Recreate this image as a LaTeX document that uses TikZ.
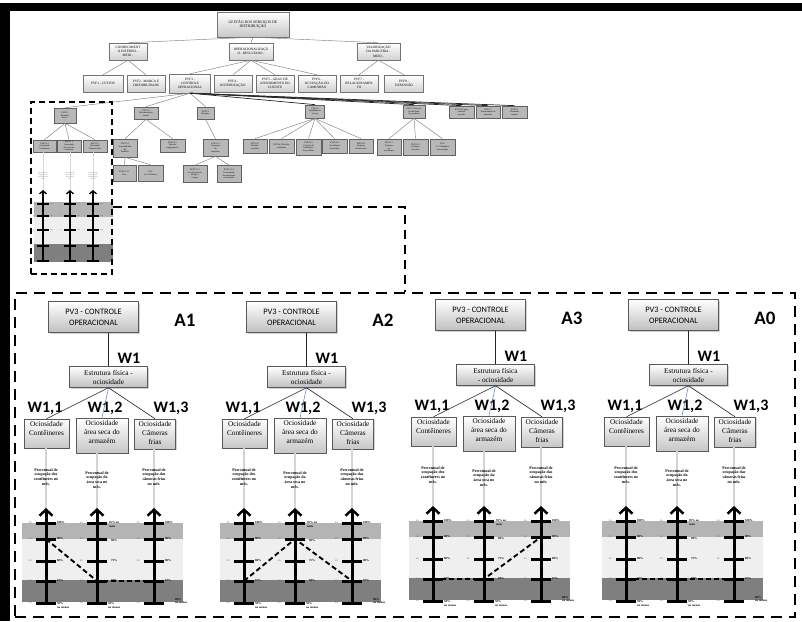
\documentclass[tikz,border=0pt]{standalone}
\usepackage{fontspec}
\setmainfont{Liberation Serif}
\newfontfamily\calib{Carlito}
\usetikzlibrary{arrows.meta,shadows,calc}

\definecolor{bandhi}{HTML}{B4B4B4}
\definecolor{bandmid}{HTML}{EFEFEF}
\definecolor{bandlo}{HTML}{7F7F7F}
\definecolor{linkblue}{HTML}{6C8EBF}

\tikzset{
  tbox/.style={draw=black!55, line width=0.4pt, inner sep=0.2pt, align=center,
    drop shadow={shadow xshift=0.7pt,shadow yshift=-0.7pt,fill=black!30}},
  troot/.style={tbox, top color=white, bottom color=black!22, font=\fontsize{3.8}{4.6}\selectfont},
  tup/.style={tbox, top color=white, bottom color=black!18, font=\fontsize{3.4}{4.1}\selectfont},
  tlow/.style={tbox, fill=black!28, draw=black!62, line width=0.7pt, font=\fontsize{2.2}{2.7}\selectfont},
  tedge/.style={draw=black!50, line width=0.45pt},
  tedgedark/.style={draw=black!85, line width=0.7pt},
  softshadow/.style={drop shadow={shadow xshift=1.3pt,shadow yshift=-1.3pt,fill=black!35}},
  pvbox/.style={draw=black!65, line width=0.5pt, top color=white, bottom color=black!25,
    minimum width=90, minimum height=31, inner sep=0, align=center,
    font=\calib\fontsize{8.3}{11}\selectfont, softshadow},
  estbox/.style={draw=black!65, line width=0.5pt, top color=white, bottom color=black!25,
    minimum width=78, minimum height=21, inner sep=0, align=center,
    font=\fontsize{7.3}{9}\selectfont, softshadow},
  ocbox/.style={draw=black!65, line width=0.5pt, top color=white, bottom color=black!22,
    inner sep=0, softshadow},
  octxt/.style={align=center, inner sep=0, font=\fontsize{7.3}{9}\selectfont},
  albl/.style={inner sep=0, font=\calib\bfseries\fontsize{19}{19}\selectfont},
  wlbl/.style={inner sep=0, font=\calib\bfseries\fontsize{16}{16}\selectfont},
  conn/.style={draw=black!85, line width=0.6pt},
  feed/.style={draw=black!17, line width=1.6pt},
  pct/.style={align=center, inner sep=0, font=\bfseries\fontsize{4}{4.8}\selectfont},
  tk/.style={align=left, inner sep=0, font=\bfseries\fontsize{3}{3.5}\selectfont},
  tkx/.style={inner sep=0, font=\fontsize{3}{3.5}\selectfont, text=black!60},
  bigarrow/.style={line width=3pt, -{Straight Barb[length=6pt,width=13pt,line width=2.5pt]}},
  tickbar/.style={line width=3pt},
  trend/.style={line width=1.9pt, dash pattern=on 5pt off 3pt},
  minarrow/.style={line width=1.5pt, -{Straight Barb[length=3pt,width=7pt,line width=1.3pt]}},
  minfeed/.style={draw=black!15, line width=0.8pt},
  mintxt/.style={align=center, inner sep=0, font=\fontsize{1.7}{2.1}\selectfont, text=black!60},
  mintk/.style={inner sep=0, font=\fontsize{1.6}{1.9}\selectfont, text=black!60},
  bigframe/.style={draw, line width=2.6pt, dash pattern=on 11pt off 7pt, inner sep=0},
  zoomframe/.style={draw, line width=1.3pt, dash pattern=on 6pt off 4pt, inner sep=0},
  linkdash/.style={draw, line width=1.6pt, dash pattern=on 9pt off 6pt},
}

% one "PV3 - controle operacional" panel: #1 name, #2/#3 offset, #4 label, #5 text of the middle box
\newcommand{\ocpanel}[5]{%
\begin{scope}[shift={(#2,#3)}]
  \node[pvbox] (#1-pv) at (93.5,317) {PV3 - CONTROLE\\OPERACIONAL};
  \node[albl] (#1-lbl) at (185,320) {#4};
  \node[estbox] (#1-est) at (108.5,377) {#5};
  \node[wlbl] (#1-w) at (129,358) {W1};
  \node[ocbox, minimum width=45, minimum height=29] (#1-L) at (46.5,433.5) {};
  \node[ocbox, minimum width=52, minimum height=35] (#1-M) at (102,435.5) {};
  \node[ocbox, minimum width=41, minimum height=30] (#1-R) at (155,434) {};
  \node[octxt, anchor=north, yshift=-2.5pt] (#1-Lt) at (#1-L.north) {Ociosidade\\Contêineres};
  \node[octxt, anchor=north, yshift=-2.5pt] (#1-Mt) at (#1-M.north) {Ociosidade\\área seca do\\armazém};
  \node[octxt, anchor=north, yshift=-2.5pt] (#1-Rt) at (#1-R.north) {Ociosidade\\Câmeras\\frias};
  \node[wlbl] (#1-w11) at (45,408) {W1,1};
  \node[wlbl] (#1-w12) at (105,408) {W1,2};
  \node[wlbl] (#1-w13) at (171,408) {W1,3};
  \draw[conn] (#1-est.north) -- (#1-est.north |- #1-pv.south);
  \draw[conn] (#1-est.south) -- (#1-L.north);
  \draw[conn, draw=linkblue] (#1-est.south) -- (#1-M.north);
  \draw[conn] (#1-est.south) -- (#1-R.north);
  % performance bands
  \fill[bandhi] (22,523) rectangle (183,539);
  \fill[bandmid] (22,539) rectangle (183,580);
  \fill[bandlo] (22,580) rectangle (183,602);
  \foreach \side/\xa in {L/46,M/97,R/154}{
    \coordinate (#1-\side-top) at (\xa,508);
    \foreach \lv/\ya in {1/523,2/539,3/561,4/581,5/603}{\coordinate (#1-\side-t\lv) at (\xa,\ya);}
    \draw[feed] (#1-\side-top |- #1-\side.south) -- (#1-\side-top);
    \draw[bigarrow] (#1-\side-t5) -- (#1-\side-top);
    \foreach \lv in {1,...,5}{
      \draw[tickbar] ([xshift=-10pt]#1-\side-t\lv) -- ([xshift=10pt]#1-\side-t\lv);
      \node[tkx, anchor=east] (#1-\side-x\lv) at ([xshift=-14pt]#1-\side-t\lv) {xx};
    }
  }
  \node[pct] (#1-L-p) at (46,477) {Percentual de\\ocupação dos\\contêineres no\\mês.};
  \node[pct] (#1-M-p) at (97,480) {Percentual de\\ocupação da\\área seca no\\mês.};
  \node[pct] (#1-R-p) at (154,477) {Percentual de\\ocupação das\\câmeras frias\\no mês.};
  \foreach \side in {L,R}{
    \node[tk, anchor=west] (#1-\side-l1) at ([xshift=11pt]#1-\side-t1) {100\%};
    \node[tk, anchor=west] (#1-\side-l2) at ([xshift=11pt]#1-\side-t2) {90\%};
    \node[tk, anchor=west] (#1-\side-l3) at ([xshift=11pt]#1-\side-t3) {80\%};
    \node[tk, anchor=west] (#1-\side-l4) at ([xshift=11pt]#1-\side-t4) {67\%};
  }
  \node[tk, anchor=north west] (#1-L-l5) at ([xshift=11pt,yshift=0.5pt]#1-L-t5) {50\%\\ou menos};
  \node[tk, anchor=north west] (#1-R-l5) at ([xshift=21pt,yshift=5pt]#1-R-t5) {60\%\\ou menos};
  \node[tk, anchor=north west] (#1-M-l1) at ([xshift=12pt,yshift=1.5pt]#1-M-t1) {95\% ou\\mais};
  \node[tk, anchor=west] (#1-M-l2) at ([xshift=14pt,yshift=-2pt]#1-M-t2) {90\%};
  \node[tk, anchor=west] (#1-M-l3) at ([xshift=14pt]#1-M-t3) {75\%};
  \node[tk, anchor=west] (#1-M-l4) at ([xshift=14pt]#1-M-t4) {60\%};
  \node[tk, anchor=north west] (#1-M-l5) at ([xshift=11pt,yshift=0.5pt]#1-M-t5) {50\%\\ou menos};
\end{scope}}

\begin{document}
\begin{tikzpicture}[x=1pt,y=-1pt]
\useasboundingbox (0,0) rectangle (802,621);
\fill[white] (0,0) rectangle (802,621);
\fill[black] (0,3) rectangle (802,11);
\fill[black] (0,3) rectangle (9.5,621);

% ---------- value tree ----------
\node[troot, minimum width=72, minimum height=25] (g) at (253,24.5) {GESTÃO DOS SERVIÇOS DE\\DISTRIBUIÇÃO};
\node[tup, minimum width=38, minimum height=17] (c1) at (128,51.5) {CONHECIMENT\\O INTERNO -\\MEIO -};
\node[tup, minimum width=44, minimum height=17] (c2) at (251,51.5) {OPERACIONALIZAÇÃ\\O - RESULTADO -};
\node[tup, minimum width=43, minimum height=17] (c3) at (378.5,51.5) {VALORIZAÇÃO\\DA PARCERIA -\\MEIO -};

\node[tup, minimum width=40, minimum height=17] (p1) at (103,83.5) {PVF1 - CUSTOS};
\node[tup, minimum width=38, minimum height=17] (p2) at (146,83.5) {PVF2 - MARCA E\\CREDIBILIDADE};
\node[tup, minimum width=41, minimum height=19] (p3) at (190,83.5) {PVF3 -\\CONTROLE\\OPERACIONAL};
\node[tup, minimum width=38, minimum height=17] (p4) at (233,83.5) {PVF4 -\\ROTEIRIZAÇÃO};
\node[tup, minimum width=38, minimum height=17] (p5) at (275,83.5) {PVF5 - GRAU DE\\ATENDIMENTO DO\\CLIENTE};
\node[tup, minimum width=38, minimum height=17] (p6) at (317,83.5) {PVF6 -\\OCUPAÇÃO DO\\CAMINHÃO};
\node[tup, minimum width=38, minimum height=17] (p7) at (359,83.5) {PVF7 -\\RELACIONAMEN\\TO};
\node[tup, minimum width=39, minimum height=17] (p8) at (404,83.5) {PVF8 -\\EXPANSÃO};

\node[tlow, minimum width=22, minimum height=15] (q1) at (65,115.5) {PVF3.1\\Estrutura\\física -};
\node[tlow, minimum width=24, minimum height=12] (q2) at (146,113) {PVF3.2\\Movimentação\\interna};
\node[tlow, minimum width=17, minimum height=12] (q3) at (205.5,113) {PVF3.3\\Estoques};
\node[tlow, minimum width=19, minimum height=13] (q4) at (315,111.5) {PVF3.4\\Qualidade do\\serviço};
\node[tlow, minimum width=22, minimum height=13] (q5) at (414,111.5) {PVF3.5 Nível de\\flexibilidade\\dos produtos};
\node[tlow, minimum width=25, minimum height=12] (q6) at (461.5,112) {PVF3.6 Carga\\nominal\\recebida};
\node[tlow, minimum width=24, minimum height=12] (q7) at (488,112) {PVF3.7\\Transferência de\\materiais};
\node[tlow, minimum width=25, minimum height=12] (q8) at (514.5,112) {PVF3.8\\Demanda\\sazonal};

\node[tlow, minimum width=23, minimum height=12] (q11) at (44.5,146) {PVF3.1.1\\Ociosidade\\Contêineres};
\node[tlow, minimum width=24, minimum height=12] (q12) at (69,146) {PVF3.1.2\\Ociosidade\\área seca do\\armazém};
\node[tlow, minimum width=24, minimum height=12] (q13) at (95,146) {PVF3.1.3\\Ociosidade\\Câmeras frias};
\node[tlow, minimum width=24, minimum height=18] (q21) at (125,148) {PVF3.2.1\\Acessibilidade\\dos\\Produtos};
\node[tlow, minimum width=25, minimum height=13] (q22) at (172.5,145.5) {PVF3.2.2\\Tipos de\\equipamentos};
\node[tlow, minimum width=25, minimum height=17] (q31) at (215.5,147.5) {PVF3.3.1\\Ocupação\\do\\armazém};
\node[tlow, minimum width=24, minimum height=14] (q41) at (255,146) {PVF3.4.1\\Pedidos\\recebidos};
\node[tlow, minimum width=25, minimum height=14] (q42) at (281.5,146) {PVF3.4.2 Pedidos\\conferidos};
\node[tlow, minimum width=25, minimum height=16] (q43) at (308.5,147) {PVF3.4.3\\Controle da\\localização\\dos produtos};
\node[tlow, minimum width=25, minimum height=14] (q44) at (334.5,146) {PVF3.4.4\\Conferência\\do produto};
\node[tlow, minimum width=24, minimum height=14] (q45) at (361,146) {PVF3.4.5\\Produtos\\classificados};
\node[tlow, minimum width=24, minimum height=16] (q51) at (389,147) {PVF3.5.1\\Produtos\\em\\movimento};
\node[tlow, minimum width=25, minimum height=16] (q52) at (415.5,147) {PVF3.5.2\\Produtos\\vencidos};
\node[tlow, minimum width=25, minimum height=16] (q53) at (442.5,147) {PVF\\3.5.3 Produtos\\para estoque};
\node[tlow, minimum width=23, minimum height=16] (q211) at (124.5,173) {PVF3.2.1.1\\Piso};
\node[tlow, minimum width=25, minimum height=16] (q212) at (150.5,173) {PVF\\3.2.1.2 Paletes};
\node[tlow, minimum width=24, minimum height=17] (q311) at (195,174) {PVF3.3.1.1\\Localização do\\tráfego e\\estoque};
\node[tlow, minimum width=24, minimum height=17] (q312) at (229,174) {PVF3.3.1.2\\Acomodação\\das prateleiras\\no armazém};

\foreach \a/\b in {g/c1,g/c2,g/c3,c1/p1,c1/p2,c2/p3,c2/p4,c2/p5,c2/p6,c3/p7,c3/p8,
  p3/q1,p3/q2,p3/q3,q1/q11,q1/q12,q1/q13,q2/q21,q2/q22,q3/q31,q21/q211,q21/q212,q31/q311,q31/q312,
  q4/q41,q4/q42,q4/q43,q4/q44,q4/q45,q5/q51,q5/q52,q5/q53}
  \draw[tedge] (\a.south) -- (\b.north);
\foreach \b in {q4,q5,q6,q7,q8}
  \draw[tedgedark] (p3.south) -- (\b.north);

% ---------- small chart under PVF3.1 ----------
\fill[bandhi] (34,202) rectangle (113,217);
\fill[bandmid] (34,217) rectangle (113,244);
\fill[bandlo] (34,244) rectangle (113,262);
\foreach \side/\xa/\src/\txt in {a/43/q11/{Percentual de\\ocupação dos\\contêineres no\\mês.},
  b/70/q12/{Percentual de\\ocupação da\\área seca no\\mês.},
  c/93/q13/{Percentual de\\ocupação das\\câmeras frias\\no mês.}}{
  \coordinate (m\side-top) at (\xa,190);
  \coordinate (m\side-bot) at (\xa,262);
  \draw[minfeed] (m\side-top |- \src.south) -- (m\side-top);
  \node[mintxt] (m\side-p) at (\xa,176) {\txt};
  \draw[minarrow] (m\side-bot) -- (m\side-top);
  \foreach \lv/\ya/\pc in {1/204/100\%,2/216/90\%,3/230/80\%,4/246/67\%,5/261/50\%}{
    \draw[line width=1.3pt] (\xa-6,\ya) -- (\xa+6,\ya);
    \node[mintk, anchor=west] (m\side-l\lv) at (\xa+7,\ya) {\pc};
    \node[mintk, anchor=east] (m\side-x\lv) at (\xa-8,\ya) {xx};
  }
}

% ---------- frames ----------
\node[zoomframe, minimum width=81, minimum height=172] (frameA) at (71.5,188) {};
\node[bigframe, minimum width=780, minimum height=324] (frameB) at (405,455) {};
\coordinate (lk) at (405,207);
\draw[linkdash] (frameA.east |- lk) -- (lk) -- (lk |- frameB.north);

% ---------- four alternatives ----------
\ocpanel{A1}{0}{0}{A1}{Estrutura física -\\ociosidade}
\ocpanel{A2}{198}{0}{A2}{Estrutura física -\\ociosidade}
\ocpanel{A3}{387}{-2}{A3}{Estrutura física\\- ociosidade}
\ocpanel{A0}{580}{-2}{A0}{Estrutura física -\\ociosidade}

\draw[trend] (A1-L-t2) -- (A1-M-t4) -- (A1-R-t4);
\draw[trend] (A2-L-t4) -- (A2-M-t2) -- (A2-R-t4);
\draw[trend] (A3-L-t4) -- (A3-M-t4) -- (A3-R-t2);
\draw[trend] (A0-L-t4) -- (A0-M-t4) -- (A0-R-t4);
\end{tikzpicture}
\end{document}
